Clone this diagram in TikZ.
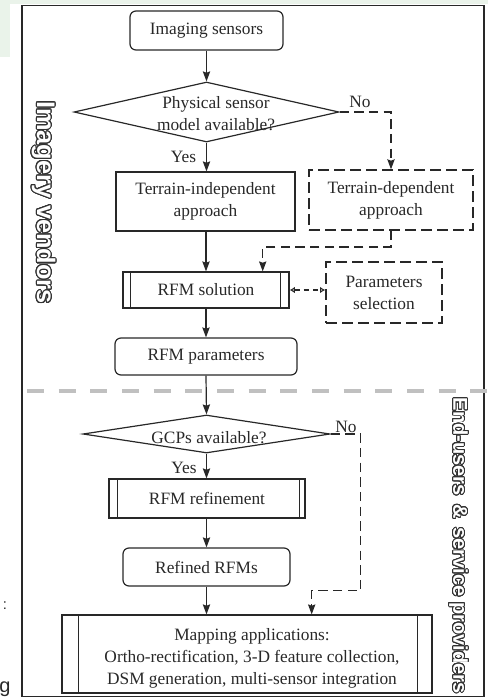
\documentclass[tikz,border=0pt]{standalone}
\usepackage{fontspec}
\setmainfont{Liberation Serif}
\newfontfamily\lsans{Liberation Sans}
\usepackage{contour}
\contournumber{24}
\usetikzlibrary{arrows.meta,shapes.geometric,calc}
\definecolor{tint}{RGB}{234,243,234}
\definecolor{linec}{RGB}{40,40,40}
\definecolor{sepgray}{RGB}{192,192,192}
\definecolor{outl}{RGB}{50,50,50}
\begin{document}
\begin{tikzpicture}[x=0.75pt,y=-0.75pt,
  every node/.style={font=\fontsize{13}{16.5}\selectfont, text=linec, align=center, inner sep=0pt},
  boxr/.style={draw=linec, line width=0.9pt, rounded corners=4.5pt},
  boxs/.style={draw=linec, line width=0.9pt},
  boxd/.style={draw=linec, line width=1pt, dash pattern=on 8pt off 4pt},
  dia/.style={draw=linec, line width=0.9pt, diamond},
  arr/.style={draw=linec, line width=0.9pt, -{Stealth[length=7.5pt,width=5.5pt,inset=1pt]}},
  darr/.style={arr, dash pattern=on 7pt off 4pt},
  dbl/.style={draw=linec, line width=0.9pt, dash pattern=on 4pt off 3pt, {Latex[open,length=4pt,width=5pt]}-{Latex[open,length=4pt,width=5pt]}},
  lab/.style={font=\fontsize{13}{16}\selectfont},
  sidelab/.style={font=\lsans\bfseries\fontsize{19}{22}\selectfont, rotate=-90},
]
\useasboundingbox (0,0) rectangle (488,697);
\fill[tint] (0,0) rectangle (488,4);
\fill[tint] (0,0) rectangle (10,57);
\node[font=\lsans\fontsize{11}{13}\selectfont] (s1) at (5,606) {:};
\node[font=\lsans\fontsize{15}{17}\selectfont, anchor=base] (s2) at (5,692) {g};

\draw[linec, line width=1.1pt] (22,5.5) rectangle (484,696.5);

\node[boxr, minimum width=114.75pt, minimum height=29.25pt] (sensors) at (206.5,30.5) {Imaging sensors};
\node[dia, minimum width=198.75pt, minimum height=45pt] (d1) at (206.5,112) {};
\node (d1t) at (216,113.5) {Physical sensor\\model available?};
\node[boxs, minimum width=134.25pt, minimum height=44.25pt] (indep) at (205.5,201.5) {Terrain-independent\\approach};
\node[boxd, minimum width=123pt, minimum height=45pt] (dep) at (391,200) {Terrain-dependent\\approach};
\node[boxs, minimum width=124.5pt, minimum height=27pt] (rfmsol) at (206,290) {RFM solution};
\node[boxd, minimum width=87pt, minimum height=45.75pt] (params) at (384,292.5) {Parameters\\selection};
\node[boxr, minimum width=136.5pt, minimum height=27.75pt] (rfmpar) at (206,356.5) {RFM parameters};
\node[dia, minimum width=185.25pt, minimum height=28.5pt] (d2) at (206.5,434) {};
\node (d2t) at (209,438) {GCPs available?};
\node[boxs, minimum width=147pt, minimum height=29.25pt] (refine) at (207,498.5) {RFM refinement};
\node[boxr, minimum width=125.25pt, minimum height=28.5pt] (refined) at (206.5,567) {Refined RFMs};
\node[boxs, minimum width=277.5pt, minimum height=58.5pt] (mapping) at (247,654) {};
\node (mapt) at (252,658) {Mapping applications:\\Ortho-rectification, 3-D feature collection,\\DSM generation, multi-sensor integration};

% inner bars of predefined-process boxes
\draw[linec, line width=0.9pt] ([xshift=6pt]rfmsol.north west) -- ([xshift=6pt]rfmsol.south west);
\draw[linec, line width=0.9pt] ([xshift=-6.75pt]rfmsol.north east) -- ([xshift=-6.75pt]rfmsol.south east);
\draw[linec, line width=0.9pt] ([xshift=6.75pt]refine.north west) -- ([xshift=6.75pt]refine.south west);
\draw[linec, line width=0.9pt] ([xshift=-4.5pt]refine.north east) -- ([xshift=-4.5pt]refine.south east);
\draw[linec, line width=0.9pt] ([xshift=12.75pt]mapping.north west) -- ([xshift=12.75pt]mapping.south west);
\draw[linec, line width=0.9pt] ([xshift=-11.25pt]mapping.north east) -- ([xshift=-11.25pt]mapping.south east);

% separator
\coordinate (sepL) at (27,391);
\coordinate (sepR) at (488,391);
\draw[sepgray, line width=3.4pt, dash pattern=on 12.75pt off 11pt] (sepL) -- (sepR);

% connectors
\draw[arr] (sensors.south) -- (d1.north);
\draw[arr] (d1.south) -- (d1.south |- indep.north);
\node[lab] (yes1) at (183.5,157) {Yes};
\draw[darr] (d1.east) -| (dep.north);
\node[lab] (no1) at (360,102) {No};
\coordinate (j1) at (262.7,247);
\draw[darr] (dep.south) |- (j1) -- (j1 |- rfmsol.north);
\draw[arr] (indep.south -| rfmsol.north) -- (rfmsol.north);
\draw[dbl] (rfmsol.east) -- (rfmsol.east -| params.west);
\draw[arr] (rfmsol.south) -- (rfmpar.north);
\draw[arr] (rfmpar.south) -- (d2.north);
\draw[arr] (d2.south) -- (d2.south |- refine.north);
\node[lab] (yes2) at (184,468) {Yes};
\coordinate (j2) at (360.7,590.7);
\coordinate (j3) at (311.7,590.7);
\draw[darr] (d2.east) -| (j2) -- (j3) -- (j3 |- mapping.north);
\node[lab] (no2) at (346,427) {No};
\draw[arr] (refine.south -| refined.north) -- (refined.north);
\draw[arr] (refined.south) -- (refined.south |- mapping.north);

% side labels
\node[sidelab] (imv) at (43,202.5) {\contourlength{0.8pt}\contour{outl}{\textcolor{white}{Imagery vendors}}};
\node[sidelab, font=\lsans\bfseries\fontsize{15}{18}\selectfont] (eusp) at (458,545.5) {\contourlength{0.7pt}\contour{outl}{\textcolor{white}{End-users \,\&\, service providers}}};
\end{tikzpicture}
\end{document}
